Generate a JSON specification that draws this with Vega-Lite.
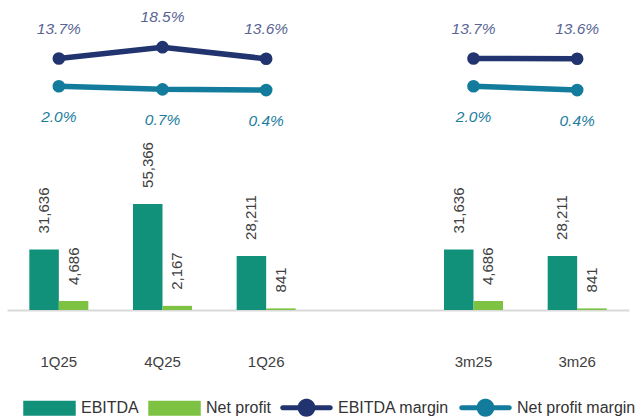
{
  "$schema": "https://vega.github.io/schema/vega-lite/v6.json",
  "width": 622,
  "height": 310,
  "autosize": {"type": "none"},
  "padding": {"left": 7, "top": 0, "right": 7, "bottom": 110},
  "config": {
    "font": "Liberation Sans",
    "view": {"stroke": null}
  },
  "datasets": {
    "bars": [
      {"cat": "1Q25", "series": "EBITDA", "value": 31636},
      {"cat": "1Q25", "series": "Net profit", "value": 4686},
      {"cat": "4Q25", "series": "EBITDA", "value": 55366},
      {"cat": "4Q25", "series": "Net profit", "value": 2167},
      {"cat": "1Q26", "series": "EBITDA", "value": 28211},
      {"cat": "1Q26", "series": "Net profit", "value": 841},
      {"cat": "3m25", "series": "EBITDA", "value": 31636},
      {"cat": "3m25", "series": "Net profit", "value": 4686},
      {"cat": "3m26", "series": "EBITDA", "value": 28211},
      {"cat": "3m26", "series": "Net profit", "value": 841}
    ],
    "margins": [
      {"cat": "1Q25", "series": "EBITDA margin", "grp": "Q", "value": 0.137},
      {"cat": "4Q25", "series": "EBITDA margin", "grp": "Q", "value": 0.185},
      {"cat": "1Q26", "series": "EBITDA margin", "grp": "Q", "value": 0.136},
      {"cat": "3m25", "series": "EBITDA margin", "grp": "M", "value": 0.137},
      {"cat": "3m26", "series": "EBITDA margin", "grp": "M", "value": 0.136},
      {"cat": "1Q25", "series": "Net profit margin", "grp": "Q", "value": 0.020},
      {"cat": "4Q25", "series": "Net profit margin", "grp": "Q", "value": 0.007},
      {"cat": "1Q26", "series": "Net profit margin", "grp": "Q", "value": 0.004},
      {"cat": "3m25", "series": "Net profit margin", "grp": "M", "value": 0.020},
      {"cat": "3m26", "series": "Net profit margin", "grp": "M", "value": 0.004}
    ]
  },
  "encoding": {
    "x": {
      "field": "cat",
      "type": "nominal",
      "sort": null,
      "scale": {"domain": ["1Q25", "4Q25", "1Q26", " ", "3m25", "3m26"], "paddingInner": 0.431, "paddingOuter": 0.2155},
      "axis": {
        "title": null,
        "labelAngle": 0,
        "ticks": false,
        "tickSize": 0,
        "labelPadding": 44,
        "labelFontSize": 15,
        "labelColor": "#404040",
        "labelFont": "Liberation Sans",
        "domainColor": "#d9d9d9",
        "domainWidth": 2,
        "grid": false
      }
    }
  },
  "layer": [
    {
      "data": {"name": "bars"},
      "encoding": {
        "xOffset": {"field": "series", "type": "nominal", "scale": {"domain": ["EBITDA", "Net profit"], "paddingInner": 0, "paddingOuter": 0}},
        "y": {"field": "value", "type": "quantitative", "scale": {"domain": [0, 161800], "nice": false, "zero": true}, "axis": null}
      },
      "layer": [
        {
          "mark": {"type": "bar"},
          "encoding": {
            "color": {
              "field": "series",
              "type": "nominal",
              "scale": {
                "domain": ["EBITDA", "Net profit", "EBITDA margin", "Net profit margin"],
                "range": ["#12917A", "#7DC242", "#22346F", "#137B9B"]
              },
              "legend": {
                "orient": "none",
                "legendX": 16,
                "legendY": 381,
                "direction": "horizontal",
                "title": null,
                "symbolSize": 2756,
                "labelFontSize": 16,
                "labelFont": "Liberation Sans",
                "labelColor": "#333333",
                "labelOffset": 5,
                "columnPadding": 9,
                "encode": {
                  "symbols": {
                    "update": {
                      "shape": {"signal": "indexof(['EBITDA','Net profit'], datum.value) >= 0 ? 'M-1,-0.286L1,-0.286L1,0.286L-1,0.286Z' : 'M-0.905,-0.095L-0.3265,-0.095A0.34,0.34 0 0 1 0.3265,-0.095L0.905,-0.095A0.095,0.095 0 0 1 0.905,0.095L0.3265,0.095A0.34,0.34 0 0 1 -0.3265,0.095L-0.905,0.095A0.095,0.095 0 0 1 -0.905,-0.095Z'"},
                      "fill": {"scale": "color", "field": "value"},
                      "stroke": {"value": "transparent"},
                      "strokeWidth": {"value": 0},
                      "opacity": {"value": 1},
                      "fillOpacity": {"value": 1}
                    }
                  }
                }
              }
            }
          }
        },
        {
          "mark": {"type": "text", "angle": -90, "align": "left", "baseline": "middle", "dx": 16, "fontSize": 15, "color": "#404040"},
          "encoding": {
            "text": {"field": "value", "type": "quantitative", "format": ","}
          }
        }
      ]
    },
    {
      "data": {"name": "margins"},
      "encoding": {
        "y": {"field": "value", "type": "quantitative", "scale": {"domain": [-0.924, 0.384], "nice": false, "zero": false}, "axis": null}
      },
      "layer": [
        {
          "mark": {"type": "line", "strokeWidth": 5.5, "point": {"filled": true, "size": 160, "opacity": 1}},
          "encoding": {
            "color": {"field": "series", "type": "nominal"},
            "detail": {"field": "grp", "type": "nominal"}
          }
        },
        {
          "transform": [{"filter": "datum.series === 'EBITDA margin'"}],
          "mark": {"type": "text", "dy": -25, "baseline": "alphabetic", "align": "center", "fontSize": 15.5, "fontStyle": "italic", "color": "#5A6594"},
          "encoding": {
            "text": {"field": "value", "type": "quantitative", "format": ".1%"}
          }
        },
        {
          "transform": [{"filter": "datum.series === 'Net profit margin'"}],
          "mark": {"type": "text", "dy": 36, "baseline": "alphabetic", "align": "center", "fontSize": 15.5, "fontStyle": "italic", "color": "#1B7D9E"},
          "encoding": {
            "text": {"field": "value", "type": "quantitative", "format": ".1%"}
          }
        }
      ]
    }
  ],
  "resolve": {"scale": {"y": "independent"}}
}
